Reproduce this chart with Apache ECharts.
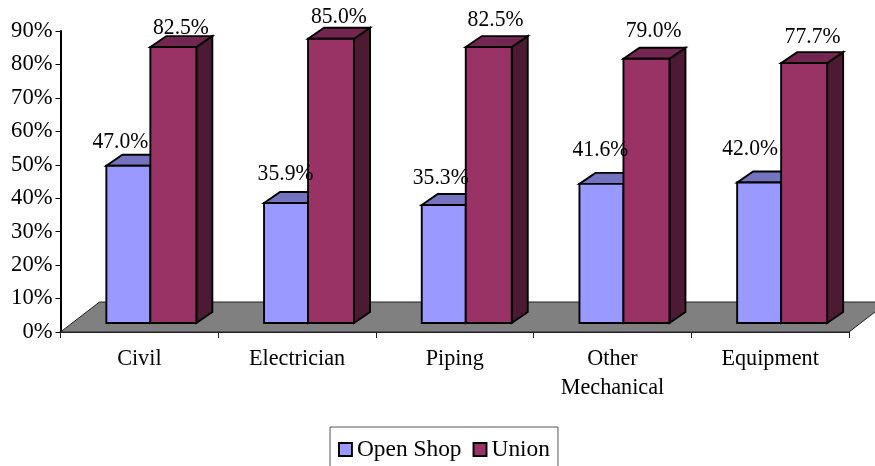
<!DOCTYPE html>
<html>
<head>
<meta charset="utf-8">
<style>html,body{margin:0;padding:0;background:#fff;overflow:hidden}#c{width:875px;height:466px}</style>
<script src="https://cdn.jsdelivr.net/npm/echarts@6/dist/echarts.min.js"></script>
</head>
<body>
<div id="c"></div>
<script>
const categories = ['Civil', 'Electrician', 'Piping', 'Other\nMechanical', 'Equipment'];
const openShop = [47.0, 35.9, 35.3, 41.6, 42.0];
const union = [82.5, 85.0, 82.5, 79.0, 77.7];

// hand-placed value labels, as in the reference [dx from pair centre, dy from bar top]
const openLabelNudge = [[-30,-24],[-22.5,-29],[-25,-27],[-23,-34],[-31,-34]];
const unionLabelNudge = [[30.6,-19],[30.8,-22],[29.8,-27],[30.2,-28],[31.4,-26]];

const FONT = '"Liberation Serif","Times New Roman",serif';
const LABEL_FONT = '23.4px ' + FONT;
const LABEL_SQUEEZE = 0.925;
const FRONT = [11, -9];     // front plane of the bars relative to the axis plane
const DEPTH = [16, -11];    // bar depth
const FLOOR = [39, -30];    // floor depth
const OPEN_W = 44, UNION_W = 46;
const C = {
  open: ['#9999FF', '#7373BF', '#4D4D80'],
  union: ['#993366', '#732650', '#4D1A33']
};

function box(x0, x1, yTop, yBase, cols) {
  const st = (fill) => ({fill, stroke: '#000', lineWidth: 1.9, lineJoin: 'miter'});
  return [
    {type: 'polygon', z2: 2, shape: {points: [[x1, yTop], [x1 + DEPTH[0], yTop + DEPTH[1]], [x1 + DEPTH[0], yBase + DEPTH[1]], [x1, yBase]]}, style: st(cols[2])},
    {type: 'polygon', z2: 2, shape: {points: [[x0, yTop], [x0 + DEPTH[0], yTop + DEPTH[1]], [x1 + DEPTH[0], yTop + DEPTH[1]], [x1, yTop]]}, style: st(cols[1])},
    {type: 'rect', z2: 3, shape: {x: x0, y: yTop, width: x1 - x0, height: yBase - yTop}, style: st(cols[0])}
  ];
}
function valueText(cx, cy, v) {
  return {type: 'text', z2: 1, x: cx, y: cy, scaleX: LABEL_SQUEEZE,
    style: {x: 0, y: 0, text: v.toFixed(1) + '%', font: LABEL_FONT, fill: '#000', align: 'center', verticalAlign: 'middle'}};
}
function renderBar(kind) {
  return function (params, api) {
    const i = api.value(0), v = api.value(1);
    const top = api.coord([i, v]), base = api.coord([i, 0]);
    const mid = top[0] + FRONT[0];
    const yTop = top[1] + FRONT[1], yBase = base[1] + FRONT[1];
    const kids = kind === 'open'
      ? box(mid - OPEN_W, mid, yTop, yBase, C.open)
      : box(mid, mid + UNION_W, yTop, yBase, C.union);
    if (kind === 'union') {
      const n = unionLabelNudge[i];
      kids.unshift(valueText(mid + n[0], yTop + n[1], v));
    }
    return {type: 'group', children: kids};
  };
}
function renderOpenLabel(params, api) {
  const i = api.value(0), v = api.value(1);
  const top = api.coord([i, v]);
  const n = openLabelNudge[i];
  return valueText(top[0] + FRONT[0] + n[0], top[1] + FRONT[1] + n[1], v);
}
function renderFloor(params, api) {
  const s = params.coordSys;
  const y = api.coord([0, 0])[1], x0 = s.x, x1 = s.x + s.width;
  return {type: 'polygon', shape: {points: [[x0, y], [x0 + FLOOR[0], y + FLOOR[1]], [x1 + FLOOR[0], y + FLOOR[1]], [x1, y]]},
    style: {fill: '#808080', stroke: '#222', lineWidth: 1}};
}
const pairs = (arr) => arr.map((v, i) => [i, v]);

const chart = echarts.init(document.getElementById('c'), null, {renderer: 'canvas', width: 875, height: 466});
chart.setOption({
  animation: false,
  backgroundColor: '#fff',
  textStyle: {fontFamily: FONT},
  grid: {left: 60.5, top: 31, width: 788.5, height: 301, containLabel: false},
  legend: {
    left: 330, top: 427, orient: 'horizontal', selectedMode: false,
    padding: [11, 8, 20, 8], itemGap: 11, itemWidth: 13, itemHeight: 13,
    borderColor: '#555', borderWidth: 1, backgroundColor: '#fff',
    textStyle: {fontFamily: FONT, fontSize: 23.4, color: '#000'},
    data: [
      {name: 'Open Shop', icon: 'rect', itemStyle: {color: C.open[0], borderColor: '#000', borderWidth: 1.9}},
      {name: 'Union', icon: 'rect', itemStyle: {color: C.union[0], borderColor: '#000', borderWidth: 1.9}}
    ]
  },
  xAxis: {
    type: 'category', data: categories, boundaryGap: true,
    axisLine: {lineStyle: {color: '#222', width: 2}},
    axisTick: {show: true, length: 6, alignWithLabel: false, lineStyle: {color: '#222', width: 1}},
    axisLabel: {interval: 0, margin: 13, fontFamily: FONT, fontSize: 22.2, color: '#000', lineHeight: 29},
    splitLine: {show: false}
  },
  yAxis: {
    type: 'value', min: 0, max: 90, interval: 10,
    axisLine: {show: true, lineStyle: {color: '#000', width: 2}},
    axisTick: {show: true, length: 5, lineStyle: {color: '#000', width: 1}},
    axisLabel: {formatter: '{value}%', margin: 8, fontFamily: FONT, fontSize: 22.6, color: '#000', padding: [6, 0, 0, 0]},
    splitLine: {show: false}
  },
  series: [
    {type: 'custom', name: 'floor', z: 1, silent: true, data: [[0, 0]], renderItem: renderFloor, encode: {x: 0, y: 1}},
    {type: 'custom', name: 'Open Shop', z: 3, silent: true, itemStyle: {color: C.open[0]}, data: pairs(openShop), renderItem: renderBar('open'), encode: {x: 0, y: 1}},
    {type: 'custom', name: 'Union', z: 4, silent: true, itemStyle: {color: C.union[0]}, data: pairs(union), renderItem: renderBar('union'), encode: {x: 0, y: 1}},
    {type: 'custom', name: 'Open Shop labels', z: 5, silent: true, data: pairs(openShop), renderItem: renderOpenLabel, encode: {x: 0, y: 1}}
  ]
});
</script>
</body>
</html>
